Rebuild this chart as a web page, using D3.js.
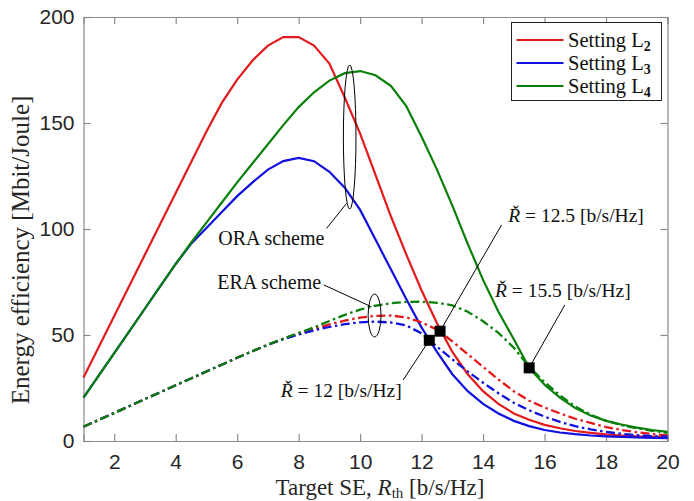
<!DOCTYPE html>
<html>
<head>
<meta charset="utf-8">
<script src="https://cdn.jsdelivr.net/npm/d3@7"></script>
<style>
  html, body { margin: 0; padding: 0; background: #fff; }
  svg { display: block; }
  .serif { font-family: "Liberation Serif", "DejaVu Serif", "Times New Roman", Times, serif; }
  .sans { font-family: "Liberation Sans", Arial, Helvetica, sans-serif; }
</style>
</head>
<body>
<svg id="chart" width="694" height="501"></svg>
<script>
// ---------------- data ----------------
const targetSE = [1,1.5,2,2.5,3,3.5,4,4.5,5,5.5,6,6.5,7,7.5,8,8.5,9,9.5,10,10.5,11,11.5,12,12.5,13,13.5,14,14.5,15,15.5,16,16.5,17,17.5,18,18.5,19,19.5,20];

const oraL2 = [30,44.5,59,73.5,88,102.5,117,131.5,146,159.5,170.5,179.5,186.5,190.5,190.5,186.5,178,162,145,125.5,106,88,71,55.5,42,31.5,23.5,17.5,13,10,7.6,6,4.7,3.8,3.1,2.6,2.2,2,1.8];
const oraL3 = [20.5,31,41.5,52,62.5,73,83.5,93,100.5,108,115.5,122,128,132,133.5,132,127,119.5,109,95,81,67,53.5,42,31.5,23.5,17.5,13,9.5,7,5.2,4,3.2,2.6,2.2,1.9,1.7,1.5,1.4];
const oraL4 = [20.5,31,41.5,52,62.5,73,83.5,93.5,103,112.5,122,131,140,149,157.5,164.5,170,173.5,174.5,172.5,167.5,158,143.5,128,111,93,76,61,48,34.5,26.5,20.5,15.5,12,9.5,7.8,6.3,5.2,4.3];

const eraL2 = [6.7,10,13.2,16.5,19.8,23,26.3,29.5,32.8,36,39.3,42.4,45.4,48.2,50.6,52.8,55,56.8,58.2,59,59.2,58.3,56,52.5,47,41,35,29,23.5,19,15.8,13,10.5,8.5,6.6,5.2,4.1,3.3,2.7];
const eraL3 = [6.7,10,13.2,16.5,19.8,23,26.3,29.5,32.8,36,39.3,42.4,45.4,48,50.2,52.2,53.8,55.1,56,56.3,55.9,54.5,50.8,44.5,38.5,32.8,27.5,22.5,18,14.5,11.5,9,7,5.5,4.3,3.4,2.8,2.3,2];
const eraL4 = [6.7,10,13.2,16.5,19.8,23,26.3,29.5,32.8,36,39.3,42.4,45.4,48.3,51,53.6,56.6,59.5,62,63.8,65,65.6,65.7,65.2,64,61,56.5,51,44,35,27.8,21.5,16.3,12.4,9.6,7.5,6,4.8,3.8];

const legendLabels = ["L2","L3","L4"];
const xTicks = [2,4,6,8,10,12,14,16,18,20];
const yTicks = [0,50,100,150,200];

// square markers at intersections (x, y)
const markX = [12.25, 12.6, 15.5];
const markY = [47.5, 51.8, 34.5];
const markLabels = ["12", "12.5", "15.5"];

// ---------------- setup ----------------
const W = 694, H = 501;
const m = {l: 83.5, r: 26.5, t: 17, b: 60};
const svg = d3.select("#chart");
const x = d3.scaleLinear().domain([1, 20]).range([m.l, W - m.r]);
const y = d3.scaleLinear().domain([0, 200]).range([H - m.b, m.t]);

const colors = {L2: "#e31a1c", L3: "#1010e0", L4: "#0a800a"};
const axisColor = "#8a8a8a";

// ---------------- axes ----------------
const gx = svg.append("g").attr("transform", `translate(0,${y(0)})`)
  .call(d3.axisBottom(x).tickValues(xTicks).tickSize(-7).tickPadding(13));
const gxt = svg.append("g").attr("transform", `translate(0,${y(200)})`)
  .call(d3.axisTop(x).tickValues(xTicks).tickSize(-7).tickFormat(""));
const gy = svg.append("g").attr("transform", `translate(${x(1)},0)`)
  .call(d3.axisLeft(y).tickValues(yTicks).tickSize(-7).tickPadding(9));
const gyr = svg.append("g").attr("transform", `translate(${x(20)},0)`)
  .call(d3.axisRight(y).tickValues(yTicks).tickSize(-7).tickFormat(""));

[gx, gxt, gy, gyr].forEach(g => {
  g.attr("font-family", null).attr("font-size", null);
  g.selectAll("path.domain").attr("stroke", axisColor).attr("stroke-width", 1.2);
  g.selectAll(".tick line").attr("stroke", axisColor).attr("stroke-width", 1.2);
  g.selectAll(".tick text").attr("fill", "#262626").attr("class", "sans").style("font-size", "21px");
});

// ---------------- lines ----------------
const line = d3.line().x(d => x(d[0])).y(d => y(d[1]));
const mk = arr => targetSE.map((v, i) => [v, arr[i]]);

const series = [
  {data: oraL2, c: colors.L2, dash: null},
  {data: oraL3, c: colors.L3, dash: null},
  {data: oraL4, c: colors.L4, dash: null},
  {data: eraL2, c: colors.L2, dash: "9,3.5,2.5,3.5"},
  {data: eraL3, c: colors.L3, dash: "9,3.5,2.5,3.5"},
  {data: eraL4, c: colors.L4, dash: "9,3.5,2.5,3.5"}
];
series.forEach(s => {
  svg.append("path").datum(mk(s.data))
    .attr("d", line)
    .attr("fill", "none")
    .attr("stroke", s.c)
    .attr("stroke-width", s.dash ? 2.3 : 2.2)
    .attr("stroke-dasharray", s.dash);
});

// ---------------- annotations ----------------
const ann = svg.append("g").attr("class", "serif").attr("fill", "#111");
const dx = v => x(v) - x(0);
const dy = v => y(0) - y(v);

// ellipses
ann.append("ellipse").attr("cx", x(9.66)).attr("cy", y(143.4))
  .attr("rx", dx(1.205) - dx(1)).attr("ry", dy(34))
  .attr("fill", "none").attr("stroke", "#000").attr("stroke-width", 1);
ann.append("ellipse").attr("cx", x(10.47)).attr("cy", y(59.2))
  .attr("rx", dx(1.21) - dx(1)).attr("ry", dy(10.1))
  .attr("fill", "none").attr("stroke", "#000").attr("stroke-width", 1);

// leaders
const leaders = [
  [9.56, 112.1, 8.91, 100.3],
  [10.37, 63.3, 8.82, 73.6],
  [markX[0], markY[0], 11.40, 28.8],
  [markX[1], markY[1], 14.60, 101.9],
  [markX[2], markY[2], 16.66, 64.2]
];
leaders.forEach(l => {
  ann.append("line").attr("x1", x(l[0])).attr("y1", y(l[1]))
    .attr("x2", x(l[2])).attr("y2", y(l[3]))
    .attr("stroke", "#000").attr("stroke-width", 1);
});

// text labels
ann.append("text").attr("class", "serif").attr("x", x(5.385)).attr("y", y(92.5)).style("font-size", "20px").text("ORA scheme");
ann.append("text").attr("class", "serif").attr("x", x(5.35)).attr("y", y(71.6)).style("font-size", "20px").text("ERA scheme");

function rLabel(xv, yv, val, anchor) {
  const t = ann.append("text").attr("class", "serif").attr("x", x(xv)).attr("y", y(yv))
    .attr("text-anchor", anchor).style("font-size", "19.5px");
  t.append("tspan").attr("font-style", "italic").text("Ř");
  t.append("tspan").text(" = " + val + " [b/s/Hz]");
}
rLabel(11.355, 20.9, markLabels[0], "end");
rLabel(14.82, 103.4, markLabels[1], "start");
rLabel(14.39, 68.1, markLabels[2], "start");

// markers
svg.append("g").selectAll("rect").data(markX).join("rect")
  .attr("x", (d, i) => x(d) - 5.5).attr("y", (d, i) => y(markY[i]) - 5.5)
  .attr("width", 11).attr("height", 11).attr("fill", "#000");

// ---------------- legend ----------------
const lg = svg.append("g");
lg.append("rect").attr("x", 511.5).attr("y", 22.5).attr("width", 150).attr("height", 78)
  .attr("fill", "#fff").attr("stroke", "#222").attr("stroke-width", 1);
legendLabels.forEach((lab, i) => {
  const yy = 40 + i * 23;
  lg.append("line").attr("x1", 516.5).attr("x2", 563.5).attr("y1", yy).attr("y2", yy)
    .attr("stroke", colors[lab]).attr("stroke-width", 2.2);
  const t = lg.append("text").attr("class", "serif").attr("x", 568).attr("y", yy + 6.5)
    .style("font-size", "20.5px").attr("fill", "#111");
  t.append("tspan").text("Setting L");
  t.append("tspan").attr("dy", 4).style("font-size", "14px").style("font-weight", "bold").text(lab.slice(1));
});

// ---------------- axis titles ----------------
const xl = svg.append("text").attr("class", "serif").attr("x", 380).attr("y", 495).attr("text-anchor", "middle")
  .style("font-size", "23px").attr("fill", "#262626");
xl.append("tspan").text("Target SE, ");
xl.append("tspan").attr("font-style", "italic").text("R");
xl.append("tspan").attr("dy", 3).style("font-size", "15px").text("th");
xl.append("tspan").attr("dy", -3).text(" [b/s/Hz]");

svg.append("text").attr("class", "serif").attr("transform", `translate(29,${250}) rotate(-90)`)
  .attr("text-anchor", "middle")
  .style("font-size", "25px").attr("fill", "#262626")
  .text("Energy efficiency [Mbit/Joule]");
</script>
</body>
</html>
